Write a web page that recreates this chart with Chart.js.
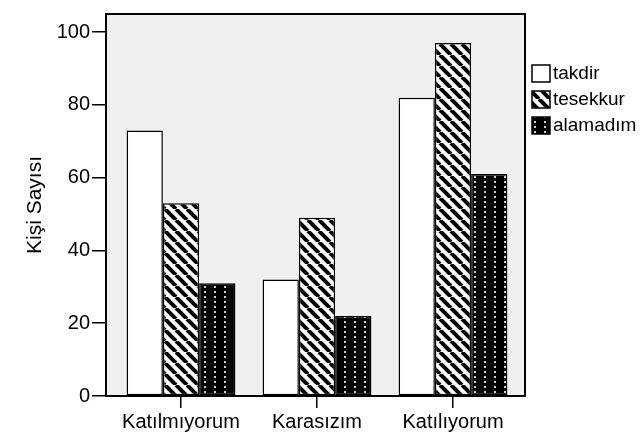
<!DOCTYPE html>
<html lang="tr">
<head>
<meta charset="UTF-8">
<title>Kişi Sayısı</title>
<script src="https://cdn.jsdelivr.net/npm/chart.js"></script>
<style>
  html, body { margin: 0; padding: 0; background: #fff; }
  #wrap { width: 644px; height: 435px; }
</style>
</head>
<body>
<div id="wrap"><canvas id="chart" width="644" height="435"></canvas></div>
<script>
// values
const categories = ['Katılmıyorum', 'Karasızım', 'Katılıyorum'];
const takdir = [73, 32, 82];
const tesekkur = [53, 49, 97];
const alamadim = [31, 22, 61];
const seriesNames = ['takdir', 'tesekkur', 'alamadım'];
const yTicks = [0, 20, 40, 60, 80, 100];

const FONT = '"Liberation Sans", Arial, sans-serif';

// hatch patterns like the SPSS output
function stripePattern() {
    const c = document.createElement('canvas');
    c.width = 11; c.height = 11;
    const g = c.getContext('2d');
    g.fillStyle = '#fff';
    g.fillRect(0, 0, 11, 11);
    g.strokeStyle = '#000';
    g.lineWidth = 4;
    [-11, 0, 11].forEach(o => {
        g.beginPath();
        g.moveTo(o, 0);
        g.lineTo(o + 11, 11);
        g.stroke();
    });
    return g.createPattern(c, 'repeat');
}

function dotPattern() {
    const c = document.createElement('canvas');
    c.width = 10; c.height = 5;
    const g = c.getContext('2d');
    g.fillStyle = '#000';
    g.fillRect(0, 0, 10, 5);
    g.fillStyle = '#ccc';
    g.fillRect(4, 1, 2, 2);
    return g.createPattern(c, 'repeat');
}

const fills = ['#fff', stripePattern(), dotPattern()];
const seriesData = [takdir, tesekkur, alamadim];

// the grey box sticks out a little past the category range
const FRAME_LEFT = 7, FRAME_RIGHT = 4;

const frame = {
    id: 'frame',
    beforeDatasetsDraw(chart) {
        const a = chart.chartArea, ctx = chart.ctx;
        ctx.save();
        ctx.fillStyle = '#f0f0f0';
        ctx.fillRect(a.left - FRAME_LEFT, a.top, a.right - a.left + FRAME_LEFT + FRAME_RIGHT, a.bottom - a.top);
        ctx.restore();
    },
    afterDatasetsDraw(chart) {
        const a = chart.chartArea, ctx = chart.ctx;
        ctx.save();
        ctx.strokeStyle = '#000';
        ctx.lineWidth = 2;
        ctx.strokeRect(a.left - FRAME_LEFT, a.top, a.right - a.left + FRAME_LEFT + FRAME_RIGHT, a.bottom - a.top);
        ctx.restore();
    }
};

// legend to the right of the plot
const sideLegend = {
    id: 'sideLegend',
    afterDraw(chart) {
        const ctx = chart.ctx;
        const x = chart.chartArea.right + FRAME_RIGHT + 7;
        let y = 65;
        ctx.save();
        ctx.font = '19px ' + FONT;
        ctx.textBaseline = 'middle';
        chart.data.datasets.forEach(ds => {
            ctx.fillStyle = ds.backgroundColor;
            ctx.fillRect(x, y, 18, 17);
            ctx.strokeStyle = '#000';
            ctx.lineWidth = 1.5;
            ctx.strokeRect(x, y, 18, 17);
            ctx.fillStyle = '#000';
            ctx.fillText(ds.label, x + 21, y + 9);
            y += 26;
        });
        ctx.restore();
    }
};

const ctx = document.getElementById('chart').getContext('2d');
new Chart(ctx, {
    type: 'bar',
    data: {
        labels: categories,
        datasets: seriesNames.map((name, i) => ({
            label: name,
            data: seriesData[i],
            backgroundColor: fills[i],
            borderColor: '#000',
            borderWidth: 1.5,
            borderSkipped: false,
            categoryPercentage: 0.8,
            barPercentage: 1.0
        }))
    },
    options: {
        responsive: false,
        animation: false,
        layout: { padding: { top: 11, right: 123, left: 0, bottom: 0 } },
        plugins: {
            legend: { display: false },
            tooltip: { enabled: false }
        },
        scales: {
            x: {
                grid: {
                    display: true,
                    drawOnChartArea: false,
                    offset: false,
                    color: '#000',
                    lineWidth: 1.5,
                    tickLength: 12
                },
                border: { display: false },
                ticks: {
                    color: '#000',
                    font: { family: FONT, size: 20 },
                    padding: 2
                },
                afterFit(scale) { scale.height = 39; }
            },
            y: {
                min: 0,
                max: 105,
                afterBuildTicks(axis) {
                    axis.ticks = yTicks.map(v => ({ value: v }));
                },
                grid: {
                    display: true,
                    drawOnChartArea: false,
                    color: '#000',
                    lineWidth: 1.5,
                    tickLength: 21
                },
                border: { display: false },
                ticks: {
                    color: '#000',
                    font: { family: FONT, size: 20 },
                    padding: 2
                },
                title: {
                    display: true,
                    text: 'Kişi Sayısı',
                    color: '#000',
                    font: { family: FONT, size: 21 },
                    padding: { top: 23, bottom: 0 }
                },
                afterFit(scale) { scale.width = 113; }
            }
        }
    },
    plugins: [frame, sideLegend]
});
</script>
</body>
</html>
